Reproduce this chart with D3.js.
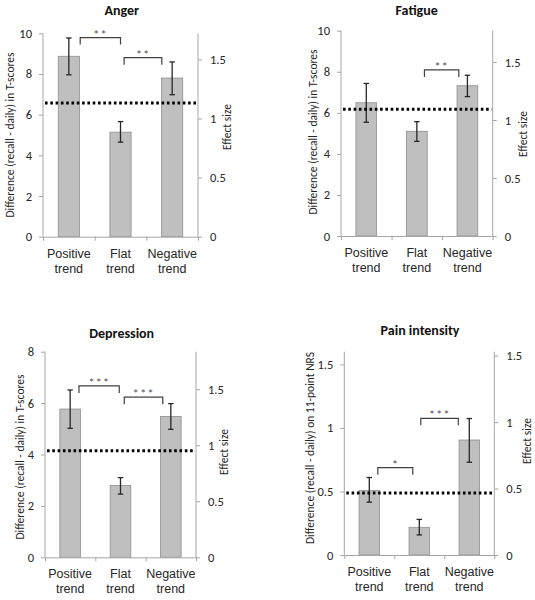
<!DOCTYPE html>
<html>
<head>
<meta charset="utf-8">
<script src="https://cdn.jsdelivr.net/npm/d3@7"></script>
<style>
  html, body { margin: 0; padding: 0; background: #fff; }
  svg { display: block; font-family: Carlito, Lato, "Open Sans", sans-serif; }
</style>
</head>
<body>
<svg id="chart" width="535" height="600"></svg>
<script>
// ---------------- DATA ----------------
const categories = ["Positive trend", "Flat trend", "Negative trend"];

const panelTitles = ["Anger", "Fatigue", "Depression", "Pain intensity"];
const leftLabels = [
  "Difference (recall - daily) in T-scores",
  "Difference (recall - daily) in T-scores",
  "Difference (recall - daily) in T-scores",
  "Difference (recall - daily) on 11-point NRS"
];
const rightLabel = "Effect size";

// bar means
const angerMeans = [8.87, 5.14, 7.80];
const fatigueMeans = [6.49, 5.10, 7.32];
const depressionMeans = [5.77, 2.79, 5.48];
const painMeans = [0.508, 0.218, 0.905];

// error bar lower / upper
const angerLow = [7.96, 4.65, 6.98];
const angerHigh = [9.77, 5.66, 8.59];
const fatigueLow = [5.54, 4.61, 6.79];
const fatigueHigh = [7.43, 5.57, 7.83];
const depressionLow = [5.02, 2.46, 4.98];
const depressionHigh = [6.51, 3.10, 5.98];
const painLow = [0.416, 0.158, 0.73];
const painHigh = [0.61, 0.28, 1.074];

// dotted reference line (left-axis units)
const refLines = [6.57, 6.17, 4.15, 0.487];

// left axis ticks / domain max
const angerTicks = [0, 2, 4, 6, 8, 10];
const fatigueTicks = [0, 2, 4, 6, 8, 10];
const depressionTicks = [0, 2, 4, 6, 8];
const painTicks = [0, 0.5, 1, 1.5];
const leftMax = [10, 10, 8, 1.6];

// right axis (effect size) ticks / domain max
const effectTicks = [0, 0.5, 1, 1.5];
const rightMax = [1.72, 1.77, 1.835, 1.53];

// significance brackets: [from (category index units), to, top value, label]
const angerBrackets = [[0.22, 1.0, 9.79, "**"], [1.07, 1.80, 8.80, "**"]];
const fatigueBrackets = [[1.15, 1.83, 8.09, "**"]];
const depressionBrackets = [[0.175, 0.975, 6.67, "***"], [1.075, 1.84, 6.23, "***"]];
const painBrackets = [[0.17, 0.87, 0.687, "*"], [1.03, 1.78, 1.076, "***"]];

// ---------------- LAYOUT ----------------
const layouts = [
  { x0: 43,    x1: 198,   yTop: 33.3,  yBot: 236.7, titleX: 121.7, titleY: 15,  lblX: 10,    lblY: 135, rLblX: 227,   rLblY: 127 },
  { x0: 341,   x1: 492.7, yTop: 30.7,  yBot: 236,   titleX: 416.7, titleY: 15,  lblX: 313.3, lblY: 132, rLblX: 523,   rLblY: 134 },
  { x0: 45,    x1: 196,   yTop: 351.7, yBot: 557.3, titleX: 121.7, titleY: 338, lblX: 20,    lblY: 457, rLblX: 224,   rLblY: 452 },
  { x0: 344.3, x1: 494.3, yTop: 351.7, yBot: 555,   titleX: 420,   titleY: 335, lblX: 310,   lblY: 448, rLblX: 526.7, rLblY: 441 }
];

const panels = [
  { means: angerMeans, low: angerLow, high: angerHigh, ticks: angerTicks, brackets: angerBrackets },
  { means: fatigueMeans, low: fatigueLow, high: fatigueHigh, ticks: fatigueTicks, brackets: fatigueBrackets },
  { means: depressionMeans, low: depressionLow, high: depressionHigh, ticks: depressionTicks, brackets: depressionBrackets },
  { means: painMeans, low: painLow, high: painHigh, ticks: painTicks, brackets: painBrackets }
];

const AXIS = "#a6a6a6";
const TEXT = "#262626";
const svg = d3.select("#chart");

panels.forEach((p, i) => {
  const L = layouts[i];
  const g = svg.append("g");

  const x = d3.scaleBand().domain(categories).range([L.x0, L.x1])
    .paddingInner(0.59).paddingOuter(0.295);
  const xc = d3.scaleLinear().domain([-0.5, 2.5]).range([L.x0, L.x1]);
  const y = d3.scaleLinear().domain([0, leftMax[i]]).range([L.yBot, L.yTop]);
  const yr = d3.scaleLinear().domain([0, rightMax[i]]).range([L.yBot, L.yTop]);

  // title
  g.append("text").attr("x", L.titleX).attr("y", L.titleY)
    .attr("text-anchor", "middle").attr("font-weight", "bold")
    .attr("font-size", 14).attr("fill", "#111").text(panelTitles[i]);

  // bars
  g.selectAll("rect.bar").data(p.means).join("rect")
    .attr("class", "bar")
    .attr("x", (d, j) => x(categories[j]))
    .attr("width", x.bandwidth())
    .attr("y", d => y(d))
    .attr("height", d => y(0) - y(d))
    .attr("fill", "#bfbfbf").attr("stroke", "#8f8f8f").attr("stroke-width", 0.8);

  // left axis
  const ax = g.append("g").attr("transform", `translate(${L.x0},0)`)
    .call(d3.axisLeft(y).tickValues(p.ticks).tickSize(4).tickPadding(7).tickFormat(d3.format("")));
  // right axis
  const ar = g.append("g").attr("transform", `translate(${L.x1},0)`)
    .call(d3.axisRight(yr).tickValues(effectTicks).tickSize(4).tickPadding(8).tickFormat(d3.format("")));
  // bottom boundary ticks
  const ab = g.append("g").attr("transform", `translate(0,${L.yBot})`)
    .call(d3.axisBottom(xc).tickValues([-0.5, 0.5, 1.5, 2.5]).tickSize(4).tickSizeOuter(0).tickFormat(""));
  // bottom labels
  const al = g.append("g").attr("transform", `translate(0,${L.yBot})`)
    .call(d3.axisBottom(x).tickSize(0).tickPadding(0).tickFormat(""));
  al.select(".domain").remove();
  al.selectAll(".tick").each(function(d) {
    const parts = d.split(" ");
    const t = d3.select(this).append("text").attr("fill", TEXT)
      .attr("font-size", 12.5).attr("text-anchor", "middle");
    parts.forEach((s, k) => t.append("tspan").attr("x", 0).attr("y", 21 + k * 15).text(s));
  });

  [ax, ar, ab].forEach(a => {
    a.selectAll(".domain").attr("stroke", AXIS).attr("stroke-width", 1);
    a.selectAll(".tick line").attr("stroke", AXIS);
    a.selectAll(".tick text").attr("fill", TEXT).attr("font-size", 12.5)
      .attr("font-family", "Carlito, Lato, sans-serif");
  });
  ax.select(".domain").attr("d", `M0,${L.yTop}V${L.yBot}`);
  ar.select(".domain").attr("d", `M0,${L.yTop}V${L.yBot}`);

  // error bars
  const eb = g.append("g").attr("stroke", "#262626").attr("stroke-width", 1.3);
  p.means.forEach((m, j) => {
    const cx = x(categories[j]) + x.bandwidth() / 2;
    eb.append("line").attr("x1", cx).attr("x2", cx).attr("y1", y(p.low[j])).attr("y2", y(p.high[j]));
    eb.append("line").attr("x1", cx - 2.7).attr("x2", cx + 2.7).attr("y1", y(p.low[j])).attr("y2", y(p.low[j]));
    eb.append("line").attr("x1", cx - 2.7).attr("x2", cx + 2.7).attr("y1", y(p.high[j])).attr("y2", y(p.high[j]));
  });

  // dotted reference line
  g.append("line").attr("x1", L.x0 + 2).attr("x2", L.x1 - 1)
    .attr("y1", y(refLines[i])).attr("y2", y(refLines[i]))
    .attr("stroke", "#000").attr("stroke-width", 3).attr("stroke-dasharray", "2.6,2.7");

  // brackets
  p.brackets.forEach(b => {
    const xa = xc(b[0]), xb = xc(b[1]), yt = y(b[2]);
    g.append("path").attr("d", `M${xa},${yt + 7}V${yt}H${xb}V${yt + 7}`)
      .attr("fill", "none").attr("stroke", "#404040").attr("stroke-width", 1.2);
    g.append("text").attr("x", (xa + xb) / 2).attr("y", yt + 1)
      .attr("text-anchor", "middle").attr("font-size", 13).attr("letter-spacing", 0.8)
      .attr("fill", "#595959")
      .text(b[3]);
  });

  // axis titles
  g.append("text").attr("transform", `translate(${L.lblX},${L.lblY}) rotate(-90)`)
    .attr("text-anchor", "middle").attr("dominant-baseline", "central")
    .attr("font-size", 11.5).attr("fill", TEXT).text(leftLabels[i]);
  g.append("text").attr("transform", `translate(${L.rLblX},${L.rLblY}) rotate(-90)`)
    .attr("text-anchor", "middle").attr("dominant-baseline", "central")
    .attr("font-size", 11.5).attr("fill", TEXT).text(rightLabel);
});
</script>
</body>
</html>
